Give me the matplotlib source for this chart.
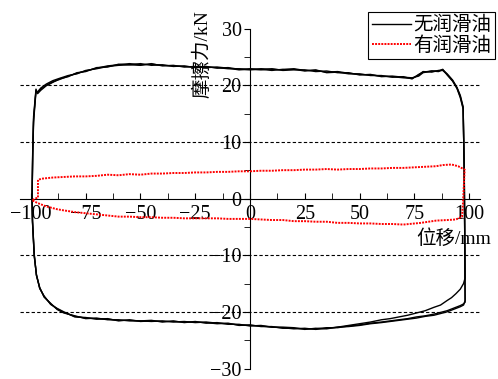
import numpy as np
import matplotlib
matplotlib.use('Agg')
import matplotlib.pyplot as plt

plt.rcParams['font.family'] = ['Liberation Serif', 'Noto Sans CJK SC']
plt.rcParams['axes.unicode_minus'] = True

## Data
# no lubrication: 3 cycles, top branch (left -> right) then bottom branch (right -> left)
top_x = [-99.5, -99.2, -98.8, -97.7, -97.0, -95.5, -93, -90, -87, -83, -79, -75, -70, -65,
         -60, -55, -50, -45, -40, -35, -30, -25, -20, -15, -10, -5, 0, 5, 10, 15, 20, 25,
         30, 35, 40, 45, 50, 55, 60, 65, 70, 74, 77, 79, 83, 86, 88, 90, 92.5, 94.5, 96, 97.3]
top_y1 = [0.0, 8.0, 14.0, 19.1, 18.6, 19.3, 20.0, 20.6, 21.0, 21.6, 22.1, 22.5, 23.0, 23.4,
          23.6, 23.8, 23.6, 23.7, 23.5, 23.4, 23.3, 23.2, 23.3, 23.0, 23.1, 22.8, 22.7, 22.9,
          22.8, 22.7, 22.9, 22.6, 22.6, 22.3, 22.4, 22.1, 21.9, 21.8, 21.6, 21.5, 21.3, 21.2,
          21.8, 22.4, 22.3, 22.6, 22.6, 21.9, 20.8, 19.5, 18.0, 16.0]
top_y2 = [0.0, 7.5, 13.5, 18.9, 18.8, 19.5, 20.2, 20.8, 21.2, 21.7, 22.0, 22.6, 22.9, 23.3,
          23.5, 23.6, 23.8, 23.5, 23.6, 23.3, 23.4, 23.1, 23.2, 23.1, 22.9, 22.9, 22.8, 22.7,
          22.9, 22.6, 22.7, 22.7, 22.4, 22.5, 22.2, 22.2, 21.8, 21.9, 21.5, 21.6, 21.4, 21.3,
          21.6, 22.2, 22.5, 22.4, 22.7, 22.0, 20.9, 19.6, 18.2, 16.2]
top_y3 = [0.0, 8.5, 14.5, 19.3, 18.5, 19.1, 19.9, 20.5, 21.1, 21.5, 22.2, 22.4, 23.1, 23.2,
          23.7, 23.6, 23.5, 23.8, 23.4, 23.5, 23.2, 23.3, 23.1, 23.2, 23.0, 22.7, 22.9, 22.8,
          22.6, 22.8, 22.8, 22.5, 22.7, 22.2, 22.3, 22.0, 22.0, 21.7, 21.7, 21.4, 21.5, 21.1,
          21.9, 22.3, 22.5, 22.5, 22.8, 21.8, 20.7, 19.4, 17.8, 15.8]

bot_x = [97.8, 98.0, 98.2, 97.5, 96, 94, 92, 90, 87, 84, 80, 76, 72, 68, 64, 60, 55, 50, 45,
         40, 35, 30, 25, 20, 15, 10, 5, 0, -5, -10, -15, -20, -25, -30, -35, -40, -45, -50,
         -55, -60, -65, -70, -75, -80, -85, -88, -91, -94, -96, -97.5, -98.5, -99.3, -99.5]
bot_y1 = [5.0, -5.0, -14.0, -15.0, -16.0, -16.8, -17.5, -18.0, -18.8, -19.2, -19.8, -20.2,
          -20.6, -20.9, -21.2, -21.4, -21.8, -22.1, -22.4, -22.7, -22.9, -23.1, -22.9, -23.0,
          -22.8, -22.7, -22.5, -22.4, -22.3, -22.1, -22.0, -21.8, -21.9, -21.7, -21.8, -21.6,
          -21.7, -21.6, -21.5, -21.5, -21.3, -21.2, -21.1, -20.8, -20.1, -19.5, -18.6, -17.3,
          -15.8, -13.5, -10.0, -4.0, 0.0]
bot_y2 = [5.0, -5.0, -18.3, -18.6, -18.9, -19.2, -19.5, -19.8, -20.1, -20.4, -20.7, -20.9,
          -21.2, -21.4, -21.6, -21.8, -22.0, -22.3, -22.5, -22.8, -22.8, -23.0, -23.0, -22.9,
          -22.9, -22.6, -22.6, -22.3, -22.4, -22.0, -22.1, -21.9, -21.8, -21.8, -21.7, -21.7,
          -21.6, -21.7, -21.4, -21.6, -21.2, -21.3, -21.0, -20.9, -20.0, -19.4, -18.7, -17.2,
          -15.9, -13.4, -10.2, -4.2, 0.0]
bot_y3 = [5.0, -5.0, -18.0, -18.8, -19.1, -19.4, -19.7, -20.0, -20.3, -20.6, -20.8, -21.1,
          -21.3, -21.5, -21.7, -21.9, -22.1, -22.4, -22.6, -22.7, -23.0, -22.9, -23.1, -22.8,
          -22.7, -22.7, -22.4, -22.5, -22.2, -22.2, -21.9, -22.0, -21.7, -21.9, -21.6, -21.8,
          -21.5, -21.6, -21.6, -21.4, -21.4, -21.1, -21.2, -20.7, -20.2, -19.6, -18.5, -17.4,
          -15.7, -13.6, -9.8, -3.8, 0.0]

# with lubrication: one loop
red_x = [-96.8, -96.8, -95, -90, -85, -80, -75, -70, -65, -60, -55, -50, -45, -40, -35, -30,
         -25, -20, -15, -10, -5, 0, 5, 10, 15, 20, 25, 30, 35, 40, 45, 50, 55, 60, 65, 70, 75,
         80, 85, 88, 92, 95, 98, 97.6, 97.2, 96.8, 94, 90, 85, 78, 70, 65, 60, 55, 50, 45, 40,
         35, 30, 25, 20, 15, 10, 5, 0, -5, -10, -15, -20, -25, -30, -35, -40, -45, -50, -55,
         -60, -65, -70, -75, -80, -85, -88, -93, -97, -99.5, -96.8]
red_y = [0.2, 3.3, 3.5, 3.7, 3.8, 3.9, 3.9, 4.0, 4.2, 4.1, 4.3, 4.2, 4.4, 4.4, 4.5, 4.5, 4.6,
         4.6, 4.7, 4.7, 4.8, 4.8, 4.9, 4.9, 5.0, 5.0, 5.1, 5.1, 5.2, 5.1, 5.2, 5.2, 5.3, 5.3,
         5.4, 5.4, 5.5, 5.6, 5.7, 5.9, 6.0, 5.7, 5.1, 2.0, -1.0, -3.2, -3.7, -3.8, -3.9, -4.3,
         -4.6, -4.5, -4.5, -4.4, -4.4, -4.3, -4.3, -4.1, -4.1, -4.0, -4.0, -3.8, -3.8, -3.7,
         -3.6, -3.6, -3.6, -3.5, -3.5, -3.5, -3.5, -3.4, -3.4, -3.3, -3.3, -3.2, -3.2, -3.0,
         -2.8, -2.6, -2.4, -2.1, -1.9, -1.4, -0.8, -0.3, 0.2]

grid_y = [-20, -10, 10, 20]
labels = ['无润滑油', '有润滑油']

fig = plt.figure(figsize=(4.98, 3.79), dpi=100)
ax = fig.add_axes([20/498, 10.5/379, 460/498, 340/379])

for g in grid_y:
    ax.axhline(g, color='black', lw=0.8, ls=(0, (3, 2)), zorder=1)

first = True
for ty, by in [(top_y1, bot_y1), (top_y2, bot_y2), (top_y3, bot_y3)]:
    ax.plot(top_x + bot_x, ty + by, color='black', lw=1.0, zorder=3,
            label=labels[0] if first else None)
    first = False
ax.plot(red_x, red_y, color='red', lw=1.4, ls=(0, (1, 0.6)), zorder=4, label=labels[1])

ax.set_xlim(-105, 105)
ax.set_ylim(-30, 30)
ax.spines['left'].set_position(('data', 0))
ax.spines['bottom'].set_position(('data', 0))
ax.spines['top'].set_visible(False)
ax.spines['right'].set_visible(False)
ax.set_xticks(np.arange(-100, 101, 25))
ax.set_xticks(np.arange(-100, 101, 12.5), minor=True)
ax.set_yticks(np.arange(-30, 31, 10))
ax.set_yticks(np.arange(-30, 31, 5), minor=True)
ax.tick_params(axis='x', which='both', direction='in', length=4, labelsize=14.5, pad=5)
ax.tick_params(axis='y', which='both', direction='out', length=4, labelsize=14.5, pad=2)

ax.text(-22, 25.5, '摩擦力/kN', rotation=90, ha='center', va='center', fontsize=14)
ax.text(93, -7, '位移/mm', ha='center', va='center', fontsize=14)

leg = fig.legend(loc='upper right', bbox_to_anchor=(495/498, 1 - 12/379), fontsize=14,
                 frameon=True, fancybox=False, edgecolor='black', framealpha=1,
                 borderpad=0.2, labelspacing=0.1, handlelength=2.0, handletextpad=0.1,
                 borderaxespad=0)
leg.get_frame().set_linewidth(0.8)

fig.savefig('out.png', dpi=100)
